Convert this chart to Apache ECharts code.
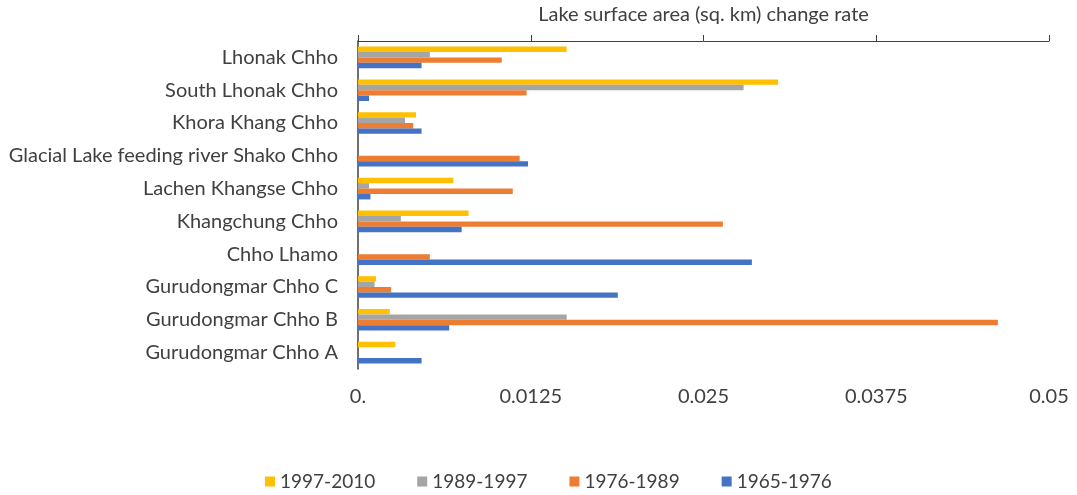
<!DOCTYPE html>
<html>
<head>
<meta charset="utf-8">
<script src="https://cdn.jsdelivr.net/npm/echarts@6/dist/echarts.min.js"></script>
<style>
  html, body { margin: 0; padding: 0; background: #fff; }
  #chart { width: 1077px; height: 495px; }
</style>
</head>
<body>
<div id="chart"></div>
<script>
// categories listed bottom-up, as the y axis draws them
const lakes = [
    'Gurudongmar Chho A', 'Gurudongmar Chho B', 'Gurudongmar Chho C', 'Chho Lhamo',
    'Khangchung Chho', 'Lachen Khangse Chho', 'Glacial Lake feeding river Shako Chho',
    'Khora Khang Chho', 'South Lhonak Chho', 'Lhonak Chho'
];
const rate1965 = [0.0046, 0.0066, 0.0188, 0.0285, 0.0075, 0.0009, 0.0123, 0.0046, 0.0008, 0.0046];
const rate1976 = [0, 0.0463, 0.0024, 0.0052, 0.0264, 0.0112, 0.0117, 0.0040, 0.0122, 0.0104];
const rate1989 = [0, 0.0151, 0.0012, 0, 0.0031, 0.0008, 0, 0.0034, 0.0279, 0.0052];
const rate1997 = [0.0027, 0.0023, 0.0013, 0, 0.0080, 0.0069, 0, 0.0042, 0.0304, 0.0151];
const xTicks = [0, 0.0125, 0.025, 0.0375, 0.05];
const legendOrder = ['1997-2010', '1989-1997', '1976-1989', '1965-1976'];

let myChart = echarts.init(document.getElementById('chart'));
let colors = ['#4472C4', '#ED7D31', '#A5A5A5', '#FFC000'];
let textColor = '#404040';
let font = 'Lato, "Open Sans", sans-serif';

function bar(name, data, color) {
    return {
        name: name,
        type: 'bar',
        data: data,
        xAxisIndex: 0,
        itemStyle: { color: color },
        barGap: 0,
        barCategoryGap: '34%'
    };
}

let option = {
    animation: false,
    backgroundColor: '#fff',
    textStyle: { fontFamily: font, color: textColor },
    grid: { left: 358, right: 28, top: 40, bottom: 126 },
    legend: {
        data: legendOrder,
        bottom: -1,
        left: 260,
        itemWidth: 10,
        itemHeight: 10,
        itemGap: 42,
        icon: 'rect',
        textStyle: { fontSize: 19, color: textColor, fontFamily: font }
    },
    xAxis: [{
        type: 'value',
        position: 'top',
        min: xTicks[0],
        max: xTicks[xTicks.length - 1],
        interval: xTicks[1],
        name: 'Lake surface area (sq. km) change rate',
        nameLocation: 'middle',
        nameGap: 16,
        nameTextStyle: { fontSize: 20, color: textColor },
        axisLine: { show: true, lineStyle: { color: '#404040', width: 1 } },
        axisTick: { show: true, length: 6, lineStyle: { color: '#404040' } },
        axisLabel: { show: false },
        splitLine: { show: false }
    }, {
        type: 'value',
        position: 'bottom',
        min: xTicks[0],
        max: xTicks[xTicks.length - 1],
        interval: xTicks[1],
        axisLine: { show: false },
        axisTick: { show: false },
        splitLine: { show: false },
        axisLabel: {
            margin: 18,
            fontSize: 20,
            color: textColor,
            formatter: v => v === 0 ? '0.' : String(+v.toFixed(4))
        }
    }],
    yAxis: {
        type: 'category',
        data: lakes,
        axisLine: { show: true, lineStyle: { color: '#404040', width: 1.5 } },
        axisTick: { show: false },
        axisLabel: { margin: 20, fontSize: 20, color: textColor }
    },
    series: [
        bar('1997-2010', rate1997, colors[3]),
        bar('1989-1997', rate1989, colors[2]),
        bar('1976-1989', rate1976, colors[1]),
        bar('1965-1976', rate1965, colors[0])
    ]
};
myChart.setOption(option);
</script>
</body>
</html>
